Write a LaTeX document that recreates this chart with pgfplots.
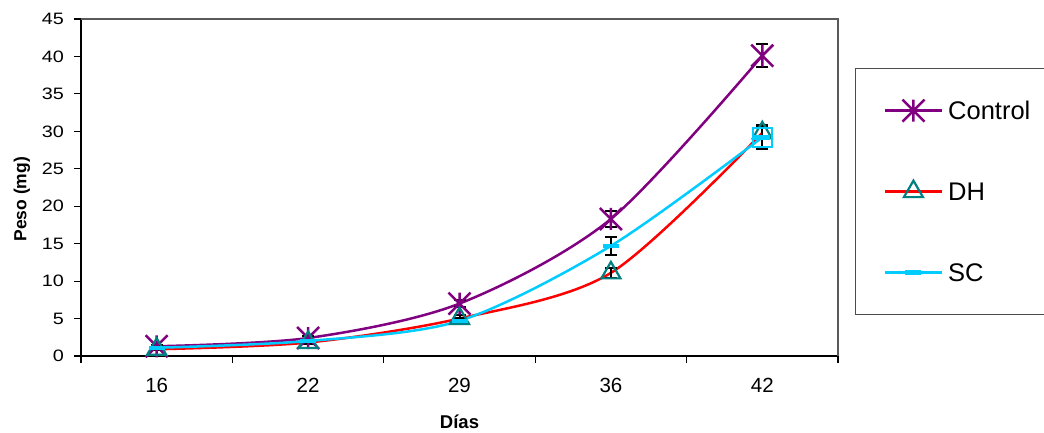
\documentclass[border=0pt]{standalone}
\usepackage{fontspec}
\setmainfont{Liberation Sans}
\newfontfamily\ytickfont[FakeStretch=1.2]{Liberation Sans}
\usepackage{pgfplots}
\pgfplotsset{compat=1.18}
\definecolor{ctrl}{HTML}{800080}
\definecolor{dhred}{HTML}{FF0000}
\definecolor{dhteal}{HTML}{008080}
\definecolor{sccyan}{HTML}{00CCFF}
\pgfdeclareplotmark{xstar}{%
 \pgfpathmoveto{\pgfqpoint{-\pgfplotmarksize}{-\pgfplotmarksize}}\pgfpathlineto{\pgfqpoint{\pgfplotmarksize}{\pgfplotmarksize}}%
 \pgfpathmoveto{\pgfqpoint{-\pgfplotmarksize}{\pgfplotmarksize}}\pgfpathlineto{\pgfqpoint{\pgfplotmarksize}{-\pgfplotmarksize}}%
 \pgfpathmoveto{\pgfqpoint{0pt}{-\pgfplotmarksize}}\pgfpathlineto{\pgfqpoint{0pt}{\pgfplotmarksize}}%
 \pgfusepathqstroke}
\begin{document}
\begin{tikzpicture}
\useasboundingbox (0,0) rectangle (1044pt,433pt);
\begin{axis}[
 at={(81pt,77pt)}, anchor=south west,
 scale only axis, width=757pt, height=337pt,
 xmin=-0.5, xmax=4.5, ymin=0, ymax=45,
 xtick={0,1,2,3,4}, xticklabels={16,22,29,36,42},
 minor xtick={-0.5,0.5,1.5,2.5,3.5,4.5},
 ytick={0,5,...,45},
 tick align=outside, major tick length=7pt, minor tick length=7pt,
 major x tick style={draw=none},
 tick style={black, line width=1.2pt},
 axis x line*=bottom, axis y line*=left,
 axis line style={line width=2.2pt, -},
 /pgf/number format/assume math mode=true,
 yticklabel style={font=\ytickfont\fontsize{16.5}{18}\selectfont, inner sep=0pt, xshift=-10pt},
 xticklabel style={font=\fontsize{20.5}{22}\selectfont, inner sep=0pt, yshift=-15pt},
 xlabel={Días},
 xlabel style={font=\bfseries\fontsize{18.5}{20}\selectfont, at={(axis description cs:0.5,-0.196)}, anchor=center},
 legend style={at={(axis description cs:1.0225,0.8546)}, anchor=north west, draw=gray!60!black, line width=1.3pt,
   inner xsep=28pt, inner ysep=31pt, row sep=59pt, column sep=5pt,
   font=\fontsize{25.5}{28}\selectfont, nodes={text height=20pt, text depth=2pt, inner sep=0pt}},
 legend cell align=left,
 legend image code/.code={\draw[#1, mark=none] (0pt,0pt) -- (57pt,0pt); \draw[#1] plot coordinates {(28.5pt,0pt)};},
 error bars/y dir=both, error bars/y explicit,
 error bars/error bar style={black, line width=2pt},
 error bars/error mark options={black, rotate=90, mark size=6pt, line width=2pt},
 clip=false,
]
\addplot[smooth, ctrl, line width=2.5pt, mark=xstar, mark size=11pt, mark options={ctrl, line width=2.5pt}]
 coordinates {(0,1.3) +- (0,0.2) (1,2.4) +- (0,0.3) (2,7.0) +- (0,0.5) (3,18.3) +- (0,1.1) (4,40.1) +- (0,1.5)};
\addlegendentry{Control}
\addplot[smooth, dhred, line width=2.5pt, mark=triangle, mark size=11pt, mark options={dhteal, line width=2.2pt, fill=none}]
 coordinates {(0,0.9) +- (0,0.1) (1,1.8) +- (0,0.2) (2,5.0) +- (0,0.5) (3,11.1) +- (0,0.7) (4,29.8) +- (0,0.8)};
\addlegendentry{DH}
\addplot[smooth, sccyan, line width=2.5pt, mark=-, mark size=8pt, mark options={sccyan, line width=4.5pt}]
 coordinates {(0,1.1) +- (0,0.1) (1,2.0) +- (0,0.2) (2,4.7) +- (0,0.4) (3,14.7) +- (0,1.2) (4,29.2) +- (0,1.6)};
\addlegendentry{SC}
\addplot[forget plot, only marks, mark=square, mark size=9.5pt, mark options={sccyan, line width=2.5pt, fill=none}, error bars/y dir=none]
 coordinates {(4,29.2)};
\draw[gray!70!black, line width=1.5pt] (rel axis cs:0,1) -- (rel axis cs:1,1) -- (rel axis cs:1,0);
\node[rotate=90, anchor=center, font=\bfseries\fontsize{17.5}{19}\selectfont] at (axis description cs:-0.078,0.465) {Peso (mg)};
\end{axis}
\end{tikzpicture}
\end{document}
